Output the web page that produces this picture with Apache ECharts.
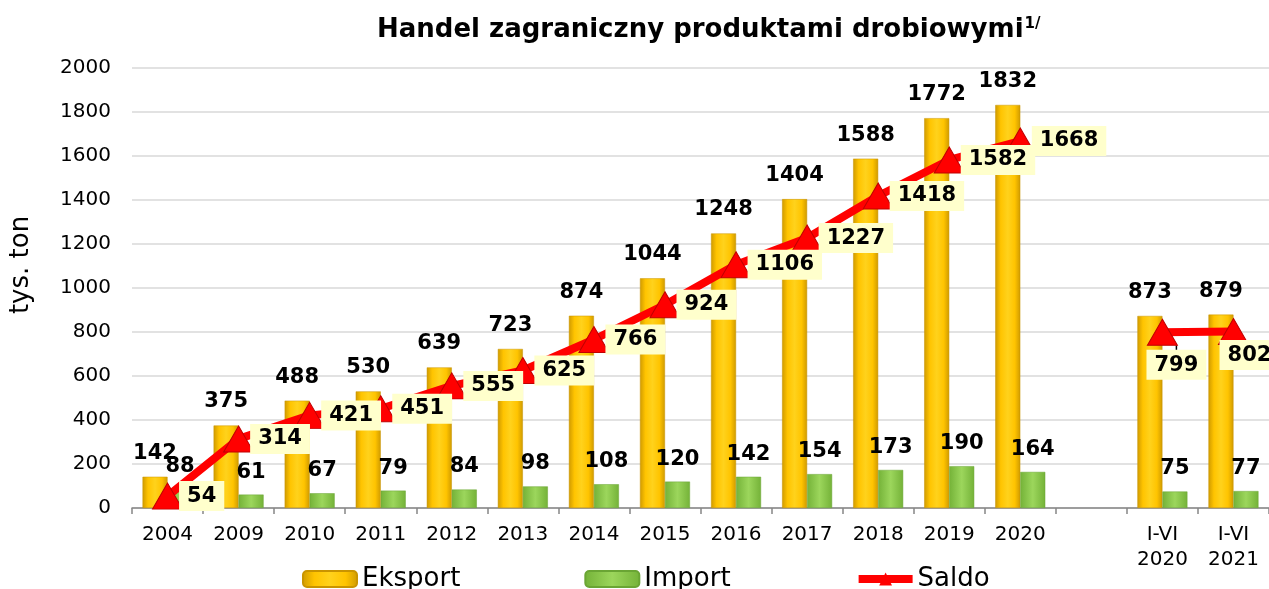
<!DOCTYPE html>
<html>
<head>
<meta charset="utf-8">
<title>Handel zagraniczny produktami drobiowymi</title>
<script src="https://cdn.jsdelivr.net/npm/echarts@6/dist/echarts.min.js"></script>
<style>
  html, body { margin: 0; padding: 0; background: #fff; }
  #chart { width: 1269px; height: 589px; }
</style>
</head>
<body>
<div id="chart"></div>
<script>
// data
const categories = ['2004', '2009', '2010', '2011', '2012', '2013', '2014', '2015',
  '2016', '2017', '2018', '2019', '2020', '', 'I-VI\n2020', 'I-VI\n2021'];
const eksport = [142, 375, 488, 530, 639, 723, 874, 1044, 1248, 1404, 1588, 1772, 1832, '-', 873, 879];
const importData = [88, 61, 67, 79, 84, 98, 108, 120, 142, 154, 173, 190, 164, '-', 75, 77];
const saldo = [54, 314, 421, 451, 555, 625, 766, 924, 1106, 1227, 1418, 1582, 1668, '-', 799, 802];
const yTicks = { min: 0, max: 2000, step: 200 };

const FONT = '"DejaVu Sans", Verdana, sans-serif';

const chart = echarts.init(document.getElementById('chart'));

// saldo points: the two half-year labels sit under the marker
const saldoData = saldo.map((v, i) => {
  if (i === 14) {
    return { value: v, label: { position: 'bottom', distance: 4, offset: [14, 0] },
      labelLine: { show: true, lineStyle: { color: '#000', width: 1.5 } } };
  }
  if (i === 15) {
    return { value: v, label: { position: 'bottom', distance: 0, offset: [16, -5] } };
  }
  return v;
});

const yellowFill = new echarts.graphic.LinearGradient(0, 0, 1, 0, [
  { offset: 0, color: '#cf9a00' },
  { offset: 0.22, color: '#ffc400' },
  { offset: 0.5, color: '#ffd21c' },
  { offset: 0.78, color: '#ffc400' },
  { offset: 1, color: '#cf9a00' }
]);
const greenFill = new echarts.graphic.LinearGradient(0, 0, 1, 0, [
  { offset: 0, color: '#74b238' },
  { offset: 0.5, color: '#9cd65c' },
  { offset: 1, color: '#74b238' }
]);

const option = {
  animation: false,
  textStyle: { fontFamily: FONT },
  title: {
    text: '{t|Handel zagraniczny produktami drobiowymi}{s|1/}',
    left: 372,
    top: 12,
    textStyle: {
      rich: {
        t: { fontFamily: FONT, fontSize: 26, fontWeight: 'bold', color: '#000' },
        s: { fontFamily: FONT, fontSize: 15, fontWeight: 'bold', color: '#000', verticalAlign: 'top', padding: [0, 0, 10, 1] }
      }
    }
  },
  legend: {
    data: [
      { name: 'Eksport' },
      { name: 'Import' },
      { name: 'Saldo', lineStyle: { width: 8 }, itemStyle: { borderWidth: 0 } }
    ],
    left: 297,
    top: 561,
    itemWidth: 54,
    itemHeight: 16,
    itemGap: 124,
    textStyle: { fontFamily: FONT, fontSize: 26, color: '#000' }
  },
  grid: {
    left: 122,
    top: 68,
    bottom: 81,
    width: 1152
  },
  xAxis: {
    type: 'category',
    data: categories,
    axisLine: { lineStyle: { color: '#868686', width: 1.5 } },
    axisTick: { show: true, length: 6, lineStyle: { color: '#868686', width: 1.5 } },
    axisLabel: { fontFamily: FONT, fontSize: 20, color: '#000', margin: 14, lineHeight: 25, interval: 0 }
  },
  yAxis: {
    type: 'value',
    min: yTicks.min,
    max: yTicks.max,
    interval: yTicks.step,
    name: 'tys. ton',
    nameLocation: 'middle',
    nameGap: 98,
    nameTextStyle: { fontFamily: FONT, fontSize: 26, color: '#000', padding: [0, 0, 0, 46] },
    axisLine: { show: false },
    axisTick: { show: false },
    axisLabel: {
      fontFamily: FONT, fontSize: 20, color: '#000', margin: 21,
      formatter: v => String(v)
    },
    splitLine: { lineStyle: { color: '#d9d9d9', width: 1.5 } }
  },
  series: [
    {
      name: 'Eksport',
      type: 'bar',
      data: eksport,
      barWidth: 25,
      barGap: '0%',
      itemStyle: { color: yellowFill, borderColor: '#c99400', borderWidth: 0.5 },
      label: {
        show: true, position: 'top', distance: 13,
        fontFamily: FONT, fontSize: 21, fontWeight: 'bold', color: '#000'
      }
    },
    {
      name: 'Import',
      type: 'bar',
      data: importData,
      barWidth: 25,
      barGap: '0%',
      itemStyle: { color: greenFill, borderColor: '#6aa534', borderWidth: 0.5 },
      label: {
        show: true, position: 'top', distance: 12,
        fontFamily: FONT, fontSize: 21, fontWeight: 'bold', color: '#000'
      }
    },
    {
      name: 'Saldo',
      type: 'line',
      data: saldoData,
      connectNulls: false,
      symbol: 'triangle',
      symbolSize: [30, 26],
      lineStyle: { color: '#ff0000', width: 8 },
      itemStyle: { color: '#ff0000', borderColor: '#c00000', borderWidth: 1 },
      z: 5,
      label: {
        show: true, position: 'right', distance: -4,
        fontFamily: FONT, fontSize: 21, fontWeight: 'bold', color: '#000',
        backgroundColor: '#ffffcc', padding: [5, 8, 4, 8]
      }
    }
  ]
};

chart.setOption(option);
</script>
</body>
</html>
